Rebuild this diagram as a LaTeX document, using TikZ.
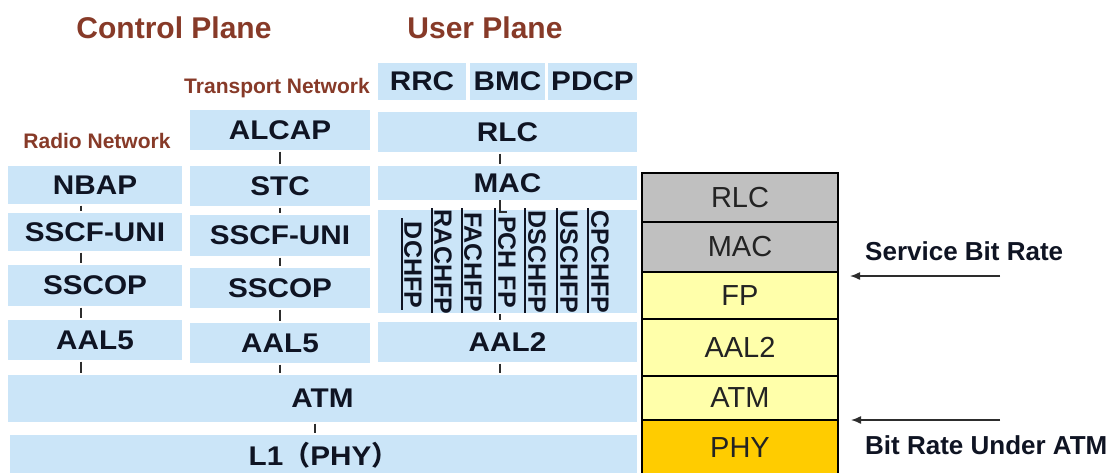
\documentclass[tikz,border=0pt]{standalone}
\usepackage{fontspec}
\setmainfont{Liberation Sans}
\newfontfamily\layerfont[FakeStretch=1.1]{Liberation Sans}
\newfontfamily\cjkfont{Noto Sans CJK SC}
\usetikzlibrary{arrows.meta}

\definecolor{layerblue}{RGB}{203,229,248}
\definecolor{labelink}{RGB}{15,20,35}
\definecolor{titlebrown}{RGB}{135,58,40}
\definecolor{tickgray}{RGB}{45,45,45}
\definecolor{stackgray}{RGB}{192,192,192}
\definecolor{stackyellow}{RGB}{255,255,170}
\definecolor{phyorange}{RGB}{255,204,0}
\definecolor{stackink}{RGB}{35,35,35}

\newcommand\fsz[1]{\fontsize{#1}{#1}\selectfont}

\begin{document}
\begin{tikzpicture}[x=1pt, y=-1pt,
  layer/.style={fill=layerblue, inner sep=0pt, font=\layerfont\bfseries\fsz{27}, text=labelink},
  planetitle/.style={inner sep=0pt, font=\bfseries\fsz{30}, text=titlebrown},
  nettitle/.style={inner sep=0pt, font=\bfseries\fsz{21}, text=titlebrown},
  fplabel/.style={inner sep=0pt, rotate=-90, font=\bfseries\fsz{25}, text=labelink},
  fpsep/.style={draw=labelink, line width=1.4pt},
  tick/.style={draw=tickgray, line width=1.5pt, shorten <=1.5pt, shorten >=1.5pt},
  stackbox/.style={draw=black, line width=1.6pt, inner sep=0pt, minimum width=196,
                   font=\fsz{29}, text=stackink},
  ratearrow/.style={draw=tickgray, line width=1.4pt, -{Latex[length=10pt,width=8pt]}},
  ratelabel/.style={anchor=west, inner sep=0pt, font=\bfseries\fsz{26}, text=labelink}]

\useasboundingbox (0,0) rectangle (1114,472);
\clip (0,0) rectangle (1114,472);
\fill[white] (0,0) rectangle (1114,472);

% headings
\node[planetitle] (cplane) at (174,28) {Control Plane};
\node[planetitle] (uplane) at (485,28) {User Plane};
\node[nettitle] (transnet) at (277,88) {Transport Network};
\node[nettitle] (radionet) at (97,141) {Radio Network};

% radio network signalling stack
\node[layer, minimum width=174, minimum height=38] (nbap)   at (95,185)   {NBAP};
\node[layer, minimum width=174, minimum height=38] (sscfa)  at (95,232)   {SSCF-UNI};
\node[layer, minimum width=174, minimum height=41] (sscopa) at (95,285.5) {SSCOP};
\node[layer, minimum width=174, minimum height=40] (aalfa)  at (95,340)   {AAL5};

% transport network signalling stack
\node[layer, minimum width=180, minimum height=40] (alcap)  at (280,130)   {ALCAP};
\node[layer, minimum width=180, minimum height=40] (stc)    at (280,186)   {STC};
\node[layer, minimum width=180, minimum height=41] (sscfb)  at (280,235.5) {SSCF-UNI};
\node[layer, minimum width=180, minimum height=40] (sscopb) at (280,288)   {SSCOP};
\node[layer, minimum width=180, minimum height=40] (aalfb)  at (280,343)   {AAL5};

% user plane stack
\node[layer, minimum width=88, minimum height=37] (rrc)  at (422,81.5)   {RRC};
\node[layer, minimum width=75, minimum height=37] (bmc)  at (507.5,81.5) {BMC};
\node[layer, minimum width=89, minimum height=37] (pdcp) at (592.5,81.5) {PDCP};
\node[layer, minimum width=259, minimum height=40] (rlc)  at (507.5,132) {RLC};
\node[layer, minimum width=259, minimum height=34] (mac)  at (507.5,183) {MAC};
\node[layer, minimum width=259, minimum height=103] (fp)  at (507.5,261) {};
\node[layer, minimum width=259, minimum height=40] (aaltwo) at (507.5,342) {AAL2};

% common transport layers
\node[layer, minimum width=629, minimum height=47] (atm) at (322.5,398.5) {ATM};
\node[layer, minimum width=627, minimum height=40] (lone) at (323.5,455) {L1{\cjkfont （}PHY{\cjkfont ）}};

% frame protocols
\foreach \xs/\ya/\yb in {402/218/310, 432/208/313, 462/208/313, 495/208/313,
                         525/208/313, 557/208/313, 588/208/313}
  \draw[fpsep] (\xs,\ya) -- (\xs,\yb);
\node[fplabel] (dchfp)  at (413,265) {DCHFP};
\node[fplabel] (rachfp) at (443,262) {RACHFP};
\node[fplabel] (fachfp) at (473,262) {FACHFP};
\node[fplabel] (pchfp)  at (507,262) {PCH FP};
\node[fplabel] (dschfp) at (537,262) {DSCHFP};
\node[fplabel] (uschfp) at (569,262) {USCHFP};
\node[fplabel] (cpchfp) at (600,262) {CPCHFP};

% connector columns
\coordinate (colradio) at (81,0);
\coordinate (coltrans) at (280,0);
\coordinate (coluser)  at (500,0);
\coordinate (colphy)   at (315,0);

\draw[tick] (nbap.south -| colradio) -- (sscfa.north -| colradio);
\draw[tick] (sscfa.south -| colradio) -- (sscopa.north -| colradio);
\draw[tick] (sscopa.south -| colradio) -- (aalfa.north -| colradio);
\draw[tick] (aalfa.south -| colradio) -- (atm.north -| colradio);

\draw[tick] (alcap.south -| coltrans) -- (stc.north -| coltrans);
\draw[tick] (stc.south -| coltrans) -- (sscfb.north -| coltrans);
\draw[tick] (sscfb.south -| coltrans) -- (sscopb.north -| coltrans);
\draw[tick] (sscopb.south -| coltrans) -- (aalfb.north -| coltrans);
\draw[tick] (aalfb.south -| coltrans) -- (atm.north -| coltrans);

\coordinate (fpjoint) at (500,212);
\coordinate (fpjointend) at (507,212);
\draw[tick] (rlc.south -| coluser) -- (mac.north -| coluser);
\draw[draw=tickgray, line width=1.5pt] (mac.south -| coluser) -- (fpjoint) -- (fpjointend);
\draw[tick] (fp.south -| coluser) -- (aaltwo.north -| coluser);
\draw[tick] (aaltwo.south -| coluser) -- (atm.north -| coluser);

\draw[tick] (atm.south -| colphy) -- (lone.north -| colphy);

% bit rate reference stack
\node[stackbox, fill=stackgray,   minimum height=49] (srlc)  at (740,197.5) {RLC};
\node[stackbox, fill=stackgray,   minimum height=50] (smac)  at (740,247)   {MAC};
\node[stackbox, fill=stackyellow, minimum height=47] (sfp)   at (740,295.5) {FP};
\node[stackbox, fill=stackyellow, minimum height=57] (saal)  at (740,347.5) {AAL2};
\node[stackbox, fill=stackyellow, minimum height=44] (satm)  at (740,398)   {ATM};
\node[stackbox, fill=phyorange,   minimum height=56] (sphy)  at (740,448)   {PHY};

% bit rate markers
\coordinate (sbrtail) at (1000,276);
\coordinate (sbrhead) at (850,276);
\coordinate (atmtail) at (1000,420);
\coordinate (atmhead) at (851,420);
\draw[ratearrow] (sbrtail) -- (sbrhead);
\draw[ratearrow] (atmtail) -- (atmhead);
\node[ratelabel] (sbr) at (865,251) {Service Bit Rate};
\node[ratelabel] (bra) at (865,445) {Bit Rate Under ATM};

\end{tikzpicture}
\end{document}
